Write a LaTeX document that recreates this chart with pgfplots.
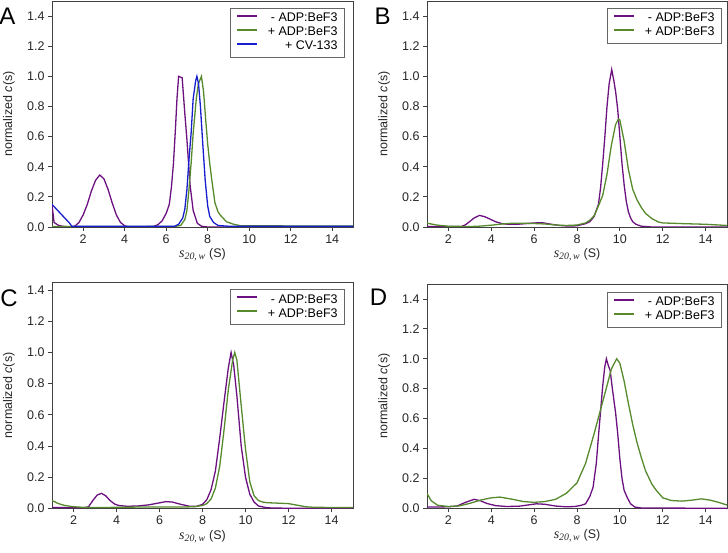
\documentclass[border=0pt]{standalone}
\usepackage{pgfplots}
\pgfplotsset{compat=1.18}
\usepackage{fontspec}
\setmainfont{Liberation Sans}
\newfontfamily\tnr{Liberation Serif}

\definecolor{cpurple}{RGB}{108,18,128}
\definecolor{cgreen}{RGB}{86,138,44}
\definecolor{cblue}{RGB}{22,30,205}
\definecolor{frame}{RGB}{64,64,64}

\pgfplotsset{
  panel/.style={
    scale only axis, width=301pt, height=226pt,
    xmin=1, xmax=15, ymin=0, ymax=1.5,
    xtick={2,4,6,8,10,12,14},
    ytick={0,0.2,0.4,0.6,0.8,1.0,1.2,1.4},
    tick align=outside, tick pos=left,
    major tick length=4pt,
    axis line style={frame, line width=0.9pt},
    every tick/.style={frame, line width=0.8pt},
    tick label style={font=\fontsize{12.5}{14}\selectfont, text=black!85},
    /pgf/number format/assume math mode=true,
    yticklabel style={/pgf/number format/fixed, /pgf/number format/fixed zerofill, /pgf/number format/precision=1},
    xlabel={{\tnr\fontsize{14}{14}\selectfont\itshape s\textsubscript{20,\,w}} (S)},
    ylabel={normalized \textit{c}(s)},
    label style={font=\fontsize{12.5}{14}\selectfont, text=black!85},
    xlabel style={at={(axis description cs:0.5,-0.124)}, anchor=center},
    ylabel style={at={(axis description cs:-0.143,0.5)}, anchor=center},
    legend cell align=right,
    legend style={anchor=north east, draw=black!60, line width=0.8pt,
      font=\fontsize{12.5}{14}\selectfont, inner xsep=6pt, inner ysep=3.5pt,
      row sep=0pt, nodes={inner sep=1pt, text height=9pt, text depth=3pt},
      /tikz/every odd column/.append style={column sep=10pt}},
    every axis plot/.append style={line width=1.3pt, mark=none},
  }
}
\tikzset{letter/.style={font=\fontsize{24}{24}\selectfont, anchor=base, inner sep=0pt}}
% legend sample: a 20pt bar, 2pt high, in the given colour
\newcommand{\legline}[1]{\addlegendimage{legend image code/.code={\fill[fill=#1, draw=none] (0pt,2pt) rectangle (20pt,4pt);}}}

\begin{document}
\begin{tikzpicture}
\useasboundingbox (0,0) rectangle (728pt,553pt);

% ---- A ----
\begin{axis}[panel, at={(52pt,326pt)}, anchor=south west, xmin=0.5,
  legend style={at={(1,1)}, xshift=-8pt, yshift=-7pt}]
\legline{cpurple}\addlegendentry{- ADP:BeF3}
\legline{cgreen}\addlegendentry{+ ADP:BeF3}
\legline{cblue}\addlegendentry{+ CV-133}
\addplot[cpurple, forget plot] coordinates {(0.5,0.15) (0.6,0.03) (0.8,0.012) (1.0,0.005) (1.4,0.0) (1.6,0.005) (1.8,0.03) (2.0,0.08) (2.2,0.15) (2.4,0.24) (2.6,0.31) (2.8,0.345) (3.0,0.32) (3.2,0.25) (3.4,0.16) (3.6,0.08) (3.8,0.03) (4.0,0.008) (4.2,0.0) (5.0,0.002) (5.4,0.004) (5.6,0.015) (5.8,0.04) (6.0,0.09) (6.15,0.15) (6.25,0.26) (6.35,0.42) (6.45,0.66) (6.52,0.85) (6.6,1.0) (6.77,0.99) (6.9,0.75) (7.0,0.58) (7.15,0.28) (7.3,0.11) (7.5,0.025) (7.7,0.005) (8.0,0.0) (15,0.0)};
\addplot[cgreen, forget plot] coordinates {(0.5,0.003) (6.4,0.003) (6.7,0.01) (6.9,0.05) (7.0,0.11) (7.1,0.25) (7.2,0.42) (7.3,0.62) (7.45,0.85) (7.55,0.95) (7.7,1.0) (7.8,0.9) (7.9,0.72) (8.0,0.55) (8.1,0.42) (8.2,0.31) (8.35,0.16) (8.5,0.1) (8.6,0.08) (8.9,0.035) (9.25,0.018) (9.6,0.008) (15,0.006)};
\addplot[cblue, forget plot] coordinates {(0.5,0.15) (1.35,0.025) (1.45,0.005) (6.4,0.005) (6.6,0.018) (6.8,0.06) (6.9,0.12) (7.0,0.25) (7.1,0.45) (7.2,0.62) (7.3,0.85) (7.42,0.97) (7.48,1.0) (7.56,0.95) (7.65,0.8) (7.75,0.58) (7.88,0.31) (8.0,0.14) (8.1,0.07) (8.28,0.03) (8.5,0.01) (9.0,0.005) (15,0.005)};
\end{axis}

% ---- B ----
\begin{axis}[panel, at={(427pt,326pt)}, anchor=south west, width=300pt,
  legend style={at={(1,1)}, xshift=-5pt, yshift=-7pt}]
\legline{cpurple}\addlegendentry{- ADP:BeF3}
\legline{cgreen}\addlegendentry{+ ADP:BeF3}
\addplot[cpurple, forget plot] coordinates {(1.0,0.003) (2.6,0.003) (2.8,0.015) (3.0,0.037) (3.2,0.06) (3.45,0.077) (3.7,0.068) (3.9,0.055) (4.2,0.035) (4.5,0.022) (4.8,0.018) (5.2,0.018) (5.6,0.022) (6.0,0.027) (6.4,0.028) (6.8,0.018) (7.2,0.01) (7.6,0.006) (8.0,0.008) (8.4,0.022) (8.6,0.035) (8.8,0.07) (9.0,0.15) (9.1,0.26) (9.2,0.42) (9.3,0.6) (9.4,0.8) (9.5,0.95) (9.62,1.045) (9.72,0.97) (9.8,0.9) (9.9,0.78) (10.0,0.6) (10.1,0.42) (10.2,0.28) (10.3,0.17) (10.4,0.1) (10.5,0.06) (10.6,0.035) (10.75,0.018) (11.0,0.005) (11.5,0.0) (15,0.0)};
\addplot[cgreen, forget plot] coordinates {(1.0,0.025) (1.5,0.012) (2.0,0.005) (3.0,0.003) (3.5,0.006) (4.0,0.012) (4.5,0.02) (5.0,0.025) (5.5,0.025) (6.0,0.023) (6.5,0.02) (7.0,0.013) (7.5,0.01) (8.0,0.013) (8.4,0.027) (8.6,0.045) (8.8,0.075) (9.0,0.14) (9.2,0.21) (9.4,0.35) (9.6,0.54) (9.8,0.68) (9.93,0.716) (10.0,0.71) (10.2,0.57) (10.4,0.38) (10.6,0.25) (10.8,0.18) (11.0,0.13) (11.2,0.09) (11.5,0.055) (11.8,0.033) (12.0,0.027) (13.0,0.022) (14.0,0.018) (15.0,0.01)};
\end{axis}

% ---- C ----
\begin{axis}[panel, at={(52pt,44.7pt)}, anchor=south west, ymax=1.45,
  legend style={at={(1,1)}, xshift=-8pt, yshift=-7pt}]
\legline{cpurple}\addlegendentry{- ADP:BeF3}
\legline{cgreen}\addlegendentry{+ ADP:BeF3}
\addplot[cpurple, forget plot] coordinates {(1.0,0.005) (2.5,0.003) (2.7,0.01) (2.9,0.05) (3.1,0.085) (3.3,0.096) (3.5,0.08) (3.7,0.05) (3.9,0.028) (4.1,0.018) (4.5,0.013) (5.0,0.015) (5.5,0.022) (6.0,0.035) (6.3,0.043) (6.6,0.04) (7.0,0.025) (7.4,0.013) (7.7,0.012) (8.0,0.025) (8.2,0.055) (8.4,0.12) (8.6,0.24) (8.8,0.45) (9.0,0.68) (9.2,0.9) (9.33,1.0) (9.45,0.92) (9.6,0.72) (9.8,0.4) (10.0,0.2) (10.2,0.09) (10.4,0.04) (10.6,0.015) (11.0,0.003) (12.0,0.0) (15,0.002)};
\addplot[cgreen, forget plot] coordinates {(1.0,0.05) (1.3,0.03) (1.6,0.018) (2.0,0.01) (2.5,0.006) (3.0,0.005) (4.0,0.006) (5.0,0.008) (6.0,0.008) (7.0,0.008) (7.6,0.01) (8.0,0.018) (8.2,0.03) (8.4,0.06) (8.6,0.13) (8.8,0.27) (9.0,0.5) (9.2,0.76) (9.4,0.95) (9.5,1.0) (9.6,0.95) (9.8,0.66) (10.0,0.38) (10.2,0.17) (10.4,0.08) (10.6,0.05) (10.8,0.04) (11.0,0.036) (11.5,0.033) (12.0,0.03) (12.4,0.02) (12.8,0.01) (13.2,0.006) (15,0.005)};
\end{axis}

% ---- D ----
\begin{axis}[panel, at={(427pt,44.7pt)}, anchor=south west, width=300pt, height=224.3pt,
  legend style={at={(1,1)}, xshift=-5pt, yshift=-8pt}]
\legline{cpurple}\addlegendentry{- ADP:BeF3}
\legline{cgreen}\addlegendentry{+ ADP:BeF3}
\addplot[cpurple, forget plot] coordinates {(1.0,0.008) (2.0,0.01) (2.4,0.015) (2.8,0.04) (3.2,0.06) (3.5,0.05) (3.8,0.032) (4.2,0.018) (4.7,0.012) (5.3,0.014) (5.7,0.022) (6.1,0.03) (6.5,0.027) (7.0,0.015) (7.5,0.01) (7.9,0.012) (8.2,0.02) (8.4,0.03) (8.6,0.08) (8.75,0.14) (8.9,0.3) (9.0,0.48) (9.1,0.65) (9.2,0.82) (9.3,0.95) (9.37,1.0) (9.45,0.96) (9.55,0.92) (9.65,0.8) (9.8,0.64) (9.9,0.5) (10.0,0.33) (10.1,0.2) (10.2,0.12) (10.35,0.07) (10.5,0.03) (10.7,0.008) (11.0,0.002) (15,0.0)};
\addplot[cgreen, forget plot] coordinates {(1.0,0.1) (1.2,0.05) (1.5,0.02) (2.0,0.012) (2.5,0.016) (3.0,0.033) (3.5,0.055) (4.0,0.07) (4.4,0.075) (5.0,0.06) (5.5,0.045) (6.0,0.04) (6.5,0.045) (7.0,0.06) (7.5,0.1) (8.0,0.17) (8.4,0.3) (8.8,0.5) (9.1,0.66) (9.4,0.82) (9.6,0.93) (9.85,1.0) (10.0,0.97) (10.2,0.85) (10.4,0.7) (10.6,0.56) (10.8,0.44) (11.0,0.34) (11.2,0.25) (11.5,0.16) (11.7,0.12) (12.0,0.07) (12.4,0.052) (12.9,0.048) (13.4,0.055) (13.8,0.063) (14.2,0.055) (14.6,0.04) (15.0,0.022)};
\end{axis}

\node[letter] at (7.5pt,528pt) {A};
\node[letter] at (382.5pt,528pt) {B};
\node[letter] at (9pt,246.5pt) {C};
\node[letter] at (378.5pt,247pt) {D};
\end{tikzpicture}
\end{document}
